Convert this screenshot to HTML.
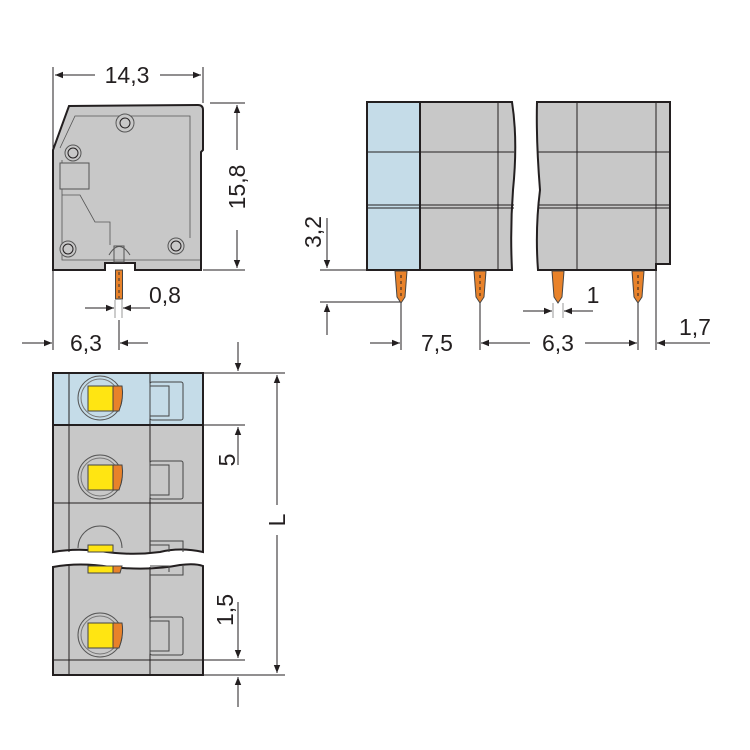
<!DOCTYPE html>
<html><head><meta charset="utf-8"><style>
html,body{margin:0;padding:0;background:#fff;}
svg{display:block;}
text{font-family:"Liberation Sans",sans-serif;font-size:23px;fill:#231f20;}
</style></head><body>
<svg width="750" height="750" viewBox="0 0 750 750" xmlns="http://www.w3.org/2000/svg">
<defs>
<marker id="a" viewBox="0 0 10 10" refX="10" refY="5" markerWidth="13" markerHeight="8" markerUnits="userSpaceOnUse" orient="auto"><path d="M0,1 L10,5 L0,9 z" fill="#231f20"/></marker>
</defs>
<g stroke="#231f20" stroke-width="1" fill="none">
<!-- SIDE VIEW -->
<path d="M53,150 L69,106 L198,105 Q203,105 203,110 L203,150 L201,152 L201,270 L135,270 L135,263 L105,263 L105,270 L53,270 Z" fill="#c8c8c8" stroke-width="2"/>
<path d="M62,160 L62,260 L200,260 M60,148 L75,116 L190,116 L190,238" stroke="#555" stroke-width="0.8"/>
<circle cx="125" cy="123" r="9" fill="#c8c8c8" stroke="#555"/><circle cx="125" cy="123" r="5"/>
<circle cx="73" cy="153" r="8" fill="#c8c8c8" stroke="#555"/><circle cx="73" cy="153" r="5"/>
<circle cx="68" cy="249" r="8" fill="#c8c8c8" stroke="#555"/><circle cx="68" cy="249" r="5"/>
<circle cx="176" cy="246" r="8" fill="#c8c8c8" stroke="#555"/><circle cx="176" cy="246" r="5"/>
<rect x="60" y="163" width="29" height="26" fill="#c8c8c8" stroke="#555"/>
<path d="M62,195 L80,195 L95,222 L110,222 L110,245" stroke="#555" stroke-width="0.8"/>
<path d="M109,255 Q119,238 130,255" stroke="#555"/>
<rect x="114" y="246" width="10" height="16" stroke="#555"/>
<rect x="115.5" y="270" width="7" height="29" fill="#e8822a" stroke="#444"/>
<line x1="119" y1="272" x2="119" y2="298" stroke="#333" stroke-dasharray="3,3"/>
<!-- side dims -->
<line x1="53" y1="67" x2="53" y2="350"/><line x1="203" y1="67" x2="203" y2="103"/>
<line x1="95" y1="75" x2="55" y2="75" marker-end="url(#a)"/><line x1="160" y1="75" x2="201" y2="75" marker-end="url(#a)"/>
<line x1="210" y1="103" x2="245" y2="103"/><line x1="203" y1="270" x2="245" y2="270"/>
<line x1="237" y1="150" x2="237" y2="105" marker-end="url(#a)"/><line x1="237" y1="230" x2="237" y2="268" marker-end="url(#a)"/>
<line x1="115" y1="300" x2="115" y2="318" stroke="#999"/><line x1="122" y1="300" x2="122" y2="318" stroke="#999"/>
<line x1="85" y1="308" x2="114" y2="308" marker-end="url(#a)"/><line x1="150" y1="308" x2="123" y2="308" marker-end="url(#a)"/>
<line x1="119" y1="320" x2="119" y2="350"/>
<line x1="22" y1="343" x2="52" y2="343" marker-end="url(#a)"/><line x1="148" y1="343" x2="120" y2="343" marker-end="url(#a)"/>
<!-- FRONT VIEW -->
<path d="M367,102 L512,102 Q518,140 513,190 Q510,230 512,270 L367,270 Z" fill="#c8c8c8" stroke-width="2"/>
<rect x="367" y="102" width="53" height="168" fill="#c5dce8" stroke-width="2"/>
<path d="M537,102 L670,102 L670,264 L656,264 L656,270 L538,270 Q535,230 540,190 Q536,140 537,102 Z" fill="#c8c8c8" stroke-width="2"/>
<path d="M367,152 L514,152 M367,205 L514,205 M367,208 L514,208 M538,152 L670,152 M539,205 L670,205 M539,208 L670,208 M420,102 L420,270 M498,102 L498,270 M577,102 L577,270 M656,102 L656,264"/>
<g fill="#e8822a" stroke="#444">
<path d="M395,271 L407,271 L405,297 L401,303 L397,297 Z"/>
<path d="M474,271 L486,271 L484,297 L480,303 L476,297 Z"/>
<path d="M552,271 L564,271 L562,297 L558,303 L554,297 Z"/>
<path d="M632,271 L644,271 L642,297 L638,303 L634,297 Z"/>
</g>
<path d="M401,275 L401,296 M480,275 L480,296 M638,275 L638,296" stroke-dasharray="3,3"/>
<!-- front dims -->
<line x1="320" y1="270" x2="367" y2="270"/><line x1="320" y1="302" x2="400" y2="302"/>
<line x1="327" y1="218" x2="327" y2="268" marker-end="url(#a)"/><line x1="327" y1="335" x2="327" y2="304" marker-end="url(#a)"/>
<line x1="401" y1="303" x2="401" y2="350"/><line x1="480" y1="303" x2="480" y2="350"/><line x1="638" y1="303" x2="638" y2="350"/><line x1="656" y1="270" x2="656" y2="350"/>
<line x1="370" y1="343" x2="400" y2="343" marker-end="url(#a)"/>
<line x1="530" y1="343" x2="481" y2="343" marker-end="url(#a)"/><line x1="585" y1="343" x2="637" y2="343" marker-end="url(#a)"/>
<line x1="710" y1="343" x2="657" y2="343" marker-end="url(#a)"/>
<line x1="553" y1="303" x2="553" y2="318" stroke="#999"/><line x1="563" y1="303" x2="563" y2="318" stroke="#999"/>
<line x1="523" y1="311" x2="552" y2="311" marker-end="url(#a)"/><line x1="593" y1="311" x2="564" y2="311" marker-end="url(#a)"/>
<!-- TOP VIEW -->
<path d="M53,373 L203,373 L203,552 Q180,547 160,552 Q130,556 100,551 Q75,548 53,552 Z" fill="#c8c8c8" stroke-width="2"/>
<rect x="53" y="373" width="150" height="52" fill="#c5dce8" stroke-width="2"/>
<path d="M53,567 Q80,562 110,567 Q150,571 180,565 Q195,563 203,566 L203,675 L53,675 Z" fill="#c8c8c8" stroke-width="2"/>
<path d="M53,425 L203,425 M53,503 L203,503 M53,660 L203,660 M69,373 L69,552 M69,566 L69,675 M150,373 L150,553 M150,567 L150,675"/>
<g>
<circle cx="100" cy="398" r="22" stroke="#555"/><circle cx="100" cy="398" r="19" stroke="#777"/>
<rect x="88" y="386" width="25" height="25" fill="#ffe512" stroke="#444"/><path d="M113,386 L122,386 Q124,398 119,411 L113,411 Z" fill="#e8822a" stroke="#444"/>
<circle cx="100" cy="477" r="22" stroke="#555"/><circle cx="100" cy="477" r="19" stroke="#777"/>
<rect x="88" y="465" width="25" height="25" fill="#ffe512" stroke="#444"/><path d="M113,465 L122,465 Q124,477 119,490 L113,490 Z" fill="#e8822a" stroke="#444"/>
<path d="M78,548 A22,22 0 0 1 122,548" stroke="#555"/>
<rect x="88" y="545" width="25" height="7" fill="#ffe512" stroke="#444"/>
<rect x="88" y="566" width="25" height="7" fill="#ffe512" stroke="#444"/><path d="M113,566 L122,566 L120,573 L113,573 Z" fill="#e8822a" stroke="#444"/>
<circle cx="100" cy="635" r="22" stroke="#555"/><circle cx="100" cy="635" r="19" stroke="#777"/>
<rect x="88" y="623" width="25" height="25" fill="#ffe512" stroke="#444"/><path d="M113,623 L122,623 Q124,635 119,648 L113,648 Z" fill="#e8822a" stroke="#444"/>
</g>
<g stroke="#444">
<rect x="150" y="382" width="33" height="38" rx="2"/><rect x="150" y="386" width="19" height="30"/>
<rect x="150" y="461" width="33" height="38" rx="2"/><rect x="150" y="465" width="19" height="30"/>
<path d="M150,541 L183,541 L183,552 M150,545 L169,545 L169,552 M150,566 L169,566 L169,572 M183,566 L183,575 L150,575"/>
<rect x="150" y="617" width="33" height="38" rx="2"/><rect x="150" y="621" width="19" height="30"/>
</g>
<!-- top view dims -->
<line x1="203" y1="373" x2="285" y2="373"/><line x1="203" y1="675" x2="285" y2="675"/>
<line x1="203" y1="425" x2="245" y2="425"/><line x1="203" y1="660" x2="245" y2="660"/>
<line x1="238" y1="342" x2="238" y2="371" marker-end="url(#a)"/>
<line x1="238" y1="465" x2="238" y2="427" marker-end="url(#a)"/>
<line x1="238" y1="602" x2="238" y2="658" marker-end="url(#a)"/>
<line x1="238" y1="707" x2="238" y2="677" marker-end="url(#a)"/>
<line x1="277" y1="505" x2="277" y2="375" marker-end="url(#a)"/><line x1="277" y1="535" x2="277" y2="673" marker-end="url(#a)"/>
</g>
<g>
<text x="127" y="83" text-anchor="middle">14,3</text>
<text transform="translate(245,187) rotate(-90)" text-anchor="middle">15,8</text>
<text x="165" y="303" text-anchor="middle">0,8</text>
<text x="86" y="351" text-anchor="middle">6,3</text>
<text transform="translate(321,232) rotate(-90)" text-anchor="middle">3,2</text>
<text x="437" y="351" text-anchor="middle">7,5</text>
<text x="558" y="351" text-anchor="middle">6,3</text>
<text x="593" y="303" text-anchor="middle">1</text>
<text x="695" y="335" text-anchor="middle">1,7</text>
<text transform="translate(235,460) rotate(-90)" text-anchor="middle">5</text>
<text transform="translate(285,520) rotate(-90)" text-anchor="middle">L</text>
<text transform="translate(233,610) rotate(-90)" text-anchor="middle">1,5</text>
</g>
</svg>
</body></html>
